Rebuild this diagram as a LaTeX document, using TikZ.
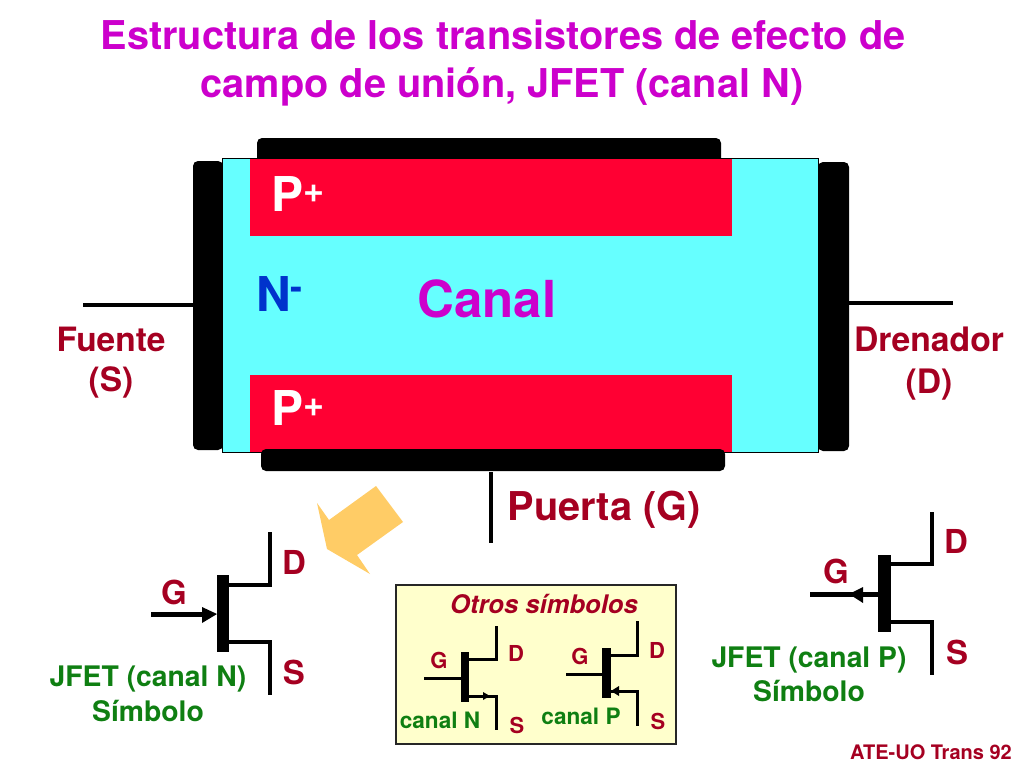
\documentclass[tikz,border=0pt]{standalone}
\usepackage{fontspec}
\setmainfont{TeX Gyre Heros}
\definecolor{drk}{HTML}{A50021}
\definecolor{grn}{HTML}{0F7F12}
\definecolor{mag}{HTML}{CC00CC}
\definecolor{cyn}{HTML}{66FFFF}
\definecolor{redp}{HTML}{FF0033}
\definecolor{bluen}{HTML}{0033CC}
\definecolor{orng}{HTML}{FFCC66}
\definecolor{ylw}{HTML}{FFFFCC}
\newcommand{\fs}[1]{\fontsize{#1}{#1}\selectfont\bfseries}
\tikzset{
  x=1pt,y=-1pt,
  lbl/.style={inner sep=0pt,anchor=base,align=center},
  plate/.style={fill=black,rounded corners=5pt},
  lead/.style={line width=#1,line cap=butt,line join=miter},
  barn/.style={fill=black,inner sep=0pt,anchor=north west}
}
\begin{document}
\begin{tikzpicture}
\useasboundingbox (0,0) rectangle (1024,768);
% title
\node[lbl,text=mag] (t1) at (503,49) {\fs{39.7}Estructura de los transistores de efecto de};
\node[lbl,text=mag] (t2) at (502,97) {\fs{39.7}campo de unión, JFET (canal N)};
% structure
\fill[plate] (257,138) rectangle (721,165);
\fill[plate] (193,161) rectangle (223,450);
\fill[plate] (818,162) rectangle (849,451);
\draw[fill=cyn,line width=1pt] (222,158) rectangle (818,452.5);
\fill[redp] (250,159) rectangle (732,236);
\fill[redp] (250,375) rectangle (732,452);
\fill[plate] (261,449) rectangle (725,471);
% leads of the structure
\coordinate (sa) at (83,305); \coordinate (sb) at (193,305);
\coordinate (da) at (849,303); \coordinate (db) at (953,303);
\coordinate (ga) at (491,472); \coordinate (gb) at (491,543);
\draw[lead=4pt] (sa) -- (sb);
\draw[lead=4pt] (da) -- (db);
\draw[lead=4pt] (ga) -- (gb);
% labels of the structure
\node[lbl,anchor=base west,text=white] (p1) at (271,211) {\fs{48}P\raisebox{9pt}{\fs{36}+}};
\node[lbl,anchor=base west,text=white] (p2) at (271,425) {\fs{48}P\raisebox{9pt}{\fs{36}+}};
\node[lbl,anchor=base west,text=bluen] (nm) at (256,311) {\fs{48}N\raisebox{12pt}{\fs{36}-}};
\node[lbl,text=mag] (can) at (487,317) {\fs{51}Canal};
\node[lbl,text=drk] (fu) at (111,351) {\fs{33.5}Fuente};
\node[lbl,text=drk] (fs) at (111,391) {\fs{33.5}(S)};
\node[lbl,text=drk] (dr) at (929,351) {\fs{33.7}Drenador};
\node[lbl,text=drk] (ds) at (929,393) {\fs{33.7}(D)};
\node[lbl,text=drk] (pg) at (604,520) {\fs{39.7}Puerta (G)};
% orange arrow
\fill[orng] (317,503) -- (329,520) -- (376,486) -- (403,522) -- (357,555) -- (370,574) -- (327,549) -- cycle;
% left symbol
\node[barn,minimum width=12pt,minimum height=77pt] (b1) at (217,575) {};
\coordinate (g1) at (151,614); \coordinate (g1t) at (217,614);
\coordinate (d1a) at (229,585); \coordinate (d1b) at (270,585); \coordinate (d1c) at (270,532);
\coordinate (s1a) at (229,642); \coordinate (s1b) at (270,642); \coordinate (s1c) at (270,695);
\draw[lead=5pt] (g1) -- (205,614);
\fill (g1t) -- (202,607) -- (202,623) -- cycle;
\draw[lead=4pt] (d1a) -- (d1b) -- (d1c);
\draw[lead=4pt] (s1a) -- (s1b) -- (s1c);
\node[lbl,text=drk] (ld1) at (294,574) {\fs{33}D};
\node[lbl,text=drk] (ls1) at (294,684) {\fs{33}S};
\node[lbl,text=drk] (lg1) at (174,604) {\fs{33}G};
\node[lbl,text=grn] (j1) at (148,686) {\fs{28.3}JFET (canal N)};
\node[lbl,text=grn] (j2) at (148,721) {\fs{28.3}Símbolo};
% right symbol
\node[barn,minimum width=13pt,minimum height=77pt] (b2) at (878,555) {};
\coordinate (g2) at (810,594); \coordinate (g2t) at (878,594);
\coordinate (d2a) at (891,564); \coordinate (d2b) at (932,564); \coordinate (d2c) at (932,512);
\coordinate (s2a) at (891,622); \coordinate (s2b) at (932,622); \coordinate (s2c) at (932,675);
\draw[lead=5pt] (g2) -- (g2t);
\fill (849,594) -- (863,587) -- (863,603) -- cycle;
\draw[lead=4pt] (d2a) -- (d2b) -- (d2c);
\draw[lead=4pt] (s2a) -- (s2b) -- (s2c);
\node[lbl,text=drk] (ld2) at (956,553) {\fs{33}D};
\node[lbl,text=drk] (ls2) at (957,664) {\fs{33}S};
\node[lbl,text=drk] (lg2) at (836,583) {\fs{33}G};
\node[lbl,text=grn] (j3) at (809,667) {\fs{28.3}JFET (canal P)};
\node[lbl,text=grn] (j4) at (809,701) {\fs{28.3}Símbolo};
% box of other symbols
\draw[fill=ylw,draw=black!85,line width=1.5pt] (396,585) rectangle (676,744);
\node[lbl,text=drk] (ot) at (544,613) {\fontsize{25.6}{25.6}\selectfont\bfseries\itshape Otros símbolos};
% mini N
\node[barn,minimum width=8pt,minimum height=50pt] (b3) at (461,652) {};
\coordinate (g3) at (424,678); \coordinate (g3t) at (461,678);
\coordinate (d3a) at (469,659); \coordinate (d3b) at (496,659); \coordinate (d3c) at (496,626);
\coordinate (s3a) at (469,696); \coordinate (s3b) at (496,696); \coordinate (s3c) at (496,730);
\draw[lead=3pt] (g3) -- (g3t);
\draw[lead=3pt] (d3a) -- (d3b) -- (d3c);
\draw[lead=3pt] (s3a) -- (s3b) -- (s3c);
\fill (490,696) -- (483,692) -- (483,700) -- cycle;
\node[lbl,text=drk] (lg3) at (439,668) {\fs{22}G};
\node[lbl,text=drk] (ld3) at (516,661) {\fs{22}D};
\node[lbl,text=drk] (ls3) at (517,733) {\fs{22}S};
\node[lbl,text=grn] (c3) at (440,728) {\fs{22.6}canal N};
% mini P
\node[barn,minimum width=9pt,minimum height=50pt] (b4) at (602,648) {};
\coordinate (g4) at (566,674); \coordinate (g4t) at (602,674);
\coordinate (d4a) at (611,655); \coordinate (d4b) at (637,655); \coordinate (d4c) at (637,621);
\coordinate (s4a) at (611,691); \coordinate (s4b) at (637,691); \coordinate (s4c) at (637,726);
\draw[lead=3pt] (g4) -- (g4t);
\draw[lead=3pt] (d4a) -- (d4b) -- (d4c);
\draw[lead=3pt] (s4a) -- (s4b) -- (s4c);
\fill (611,691) -- (619,686) -- (619,696) -- cycle;
\node[lbl,text=drk] (lg4) at (580,664) {\fs{22}G};
\node[lbl,text=drk] (ld4) at (657,658) {\fs{22}D};
\node[lbl,text=drk] (ls4) at (658,729) {\fs{22}S};
\node[lbl,text=grn] (c4) at (581,724) {\fs{22.6}canal P};
% footer
\node[lbl,anchor=base east,text=drk] (ft) at (1012,759) {\fs{20}ATE-UO Trans 92};
\end{tikzpicture}
\end{document}
